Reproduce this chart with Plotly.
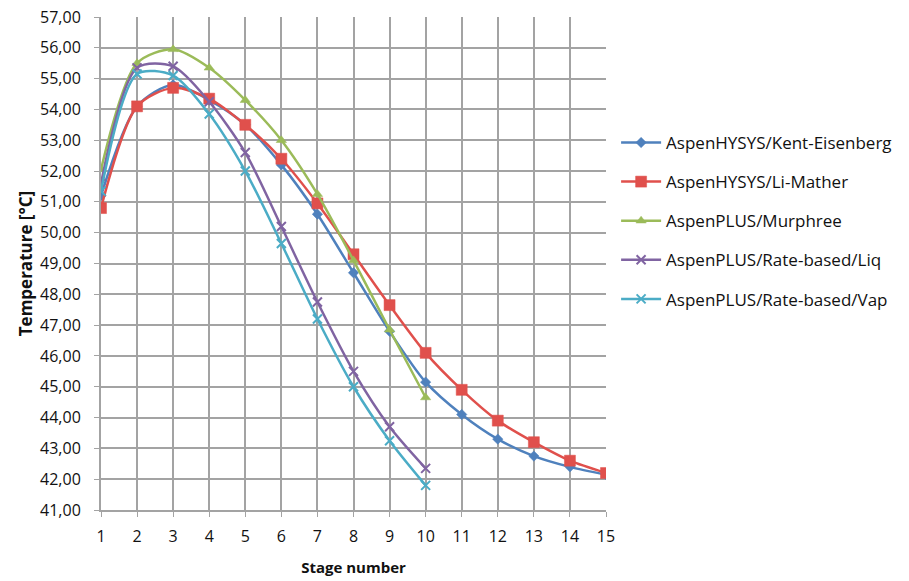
import plotly.graph_objects as go

stages = list(range(1, 16))
stages10 = list(range(1, 11))

kent_eisenberg = [51.2, 54.1, 54.8, 54.3, 53.5, 52.2, 50.6, 48.7, 46.8, 45.15, 44.1, 43.3, 42.75, 42.4, 42.15]
li_mather = [50.8, 54.1, 54.7, 54.35, 53.5, 52.4, 50.95, 49.3, 47.65, 46.1, 44.9, 43.9, 43.2, 42.6, 42.2]
murphree = [52.05, 55.5, 55.95, 55.35, 54.3, 53.0, 51.25, 49.1, 46.85, 44.65]
rate_liq = [51.6, 55.35, 55.4, 54.25, 52.6, 50.2, 47.75, 45.5, 43.7, 42.35]
rate_vap = [51.35, 55.15, 55.1, 53.85, 52.0, 49.65, 47.2, 45.0, 43.25, 41.8]

names = ["AspenHYSYS/Kent-Eisenberg", "AspenHYSYS/Li-Mather", "AspenPLUS/Murphree",
         "AspenPLUS/Rate-based/Liq", "AspenPLUS/Rate-based/Vap"]
colors = ["#4F81BD", "#E0504C", "#9BBB59", "#8064A2", "#4BACC6"]
symbols = ["diamond", "square", "triangle-up", "x-thin-open", "x-thin-open"]
sizes = [8, 11, 9, 9, 9]

series = [(stages, kent_eisenberg), (stages, li_mather), (stages10, murphree),
          (stages10, rate_liq), (stages10, rate_vap)]

fig = go.Figure()
for i, ((xs, ys), n, c, s, sz) in enumerate(zip(series, names, colors, symbols, sizes)):
    fig.add_trace(go.Scatter(
        x=xs, y=ys, name=n, mode="lines+markers",
        line=dict(color=c, width=2.5, shape="spline", smoothing=0.8),
        marker=dict(symbol=s, size=sz, color=c, line=dict(color=c, width=2 if "open" in s else 0.5)),
        legendgroup=f"g{i}",
    ))

font = "Open Sans, Liberation Sans, sans-serif"
grid = "#A3A3A3"
fig.update_layout(
    width=909, height=581,
    margin=dict(l=101, r=301, t=17, b=71),
    paper_bgcolor="white", plot_bgcolor="white",
    separators=",.",
    font=dict(family=font, size=16, color="#222"),
    showlegend=True,
    legend=dict(x=1.02, y=0.781, xanchor="left", yanchor="top",
                font=dict(size=17, color="#111"), traceorder="grouped",
                tracegroupgap=14, itemwidth=40, bgcolor="rgba(0,0,0,0)"),
    xaxis=dict(range=[1, 15], tickmode="array", tickvals=stages, ticktext=[str(s) for s in stages],
               showgrid=True, gridcolor=grid, gridwidth=2, automargin=False,
               showline=True, linecolor=grid, linewidth=2,
               ticks="outside", ticklen=5, tickcolor=grid, ticklabelstandoff=6,
               tickfont=dict(size=16, color="#111"), zeroline=False,
               title=dict(text="<b>Stage number</b>", font=dict(size=15, color="#111"), standoff=16)),
    yaxis=dict(range=[41, 57], dtick=1, tickformat=".2f",
               showgrid=True, gridcolor=grid, gridwidth=2, automargin=False,
               showline=True, linecolor=grid, linewidth=2, mirror=False,
               ticks="outside", ticklen=5, tickcolor=grid, ticklabelstandoff=10,
               tickfont=dict(size=16, color="#111"), zeroline=False,
               title=dict(text="<b>Temperature [°C]</b>", font=dict(size=17, color="#111"), standoff=3)),
)

fig.write_html("out.html")
